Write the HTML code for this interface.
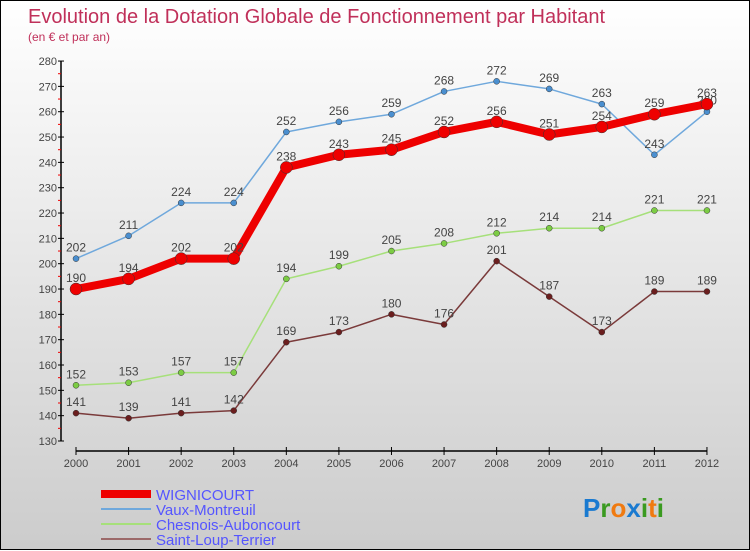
<!DOCTYPE html>
<html><head><meta charset="utf-8"><style>
body{margin:0;}
#c{width:748px;height:548px;border:1px solid #000;background:linear-gradient(#fff,#ccc);position:relative;font-family:"Liberation Sans",sans-serif;}
svg{position:absolute;left:0;top:0}
</style></head><body>
<div id="c">
<svg id="s" width="750" height="550"></svg>
</div>
<script>
const years=[2000,2001,2002,2003,2004,2005,2006,2007,2008,2009,2010,2011,2012];
const wig=[190,194,202,202,238,243,245,252,256,251,254,259,263];
const vaux=[202,211,224,224,252,256,259,268,272,269,263,243,260];
const ches=[152,153,157,157,194,199,205,208,212,214,214,221,221];
const saint=[141,139,141,142,169,173,180,176,201,187,173,189,189];
const yTicks=[130,140,150,160,170,180,190,200,210,220,230,240,250,260,270,280];
const names=["WIGNICOURT","Vaux-Montreuil","Chesnois-Auboncourt","Saint-Loup-Terrier"];
const NS="http://www.w3.org/2000/svg";
const s=document.getElementById('s');
const X=i=>75+i*52.58, Y=v=>440-(v-130)*2.533;
function el(t,a,p){const e=document.createElementNS(NS,t);for(const k in a)e.setAttribute(k,a[k]);(p||s).appendChild(e);return e;}
function tx(x,y,str,a){const e=el('text',Object.assign({x:x,y:y},a));e.textContent=str;return e;}
let t=tx(27,22,"Evolution de la Dotation Globale de Fonctionnement par Habitant",{fill:"#c0305a","font-size":20});

t=tx(27,40,"(en € et par an)",{fill:"#c0305a","font-size":12});

let ya=el('line',{x1:60,y1:60,x2:60,y2:440,stroke:"#000","stroke-width":1.5});

yTicks.forEach(v=>{el('line',{x1:57,x2:63,y1:Y(v),y2:Y(v),stroke:"#000"});
 if(v<280)el('line',{x1:57,x2:60,y1:Y(v+5),y2:Y(v+5),stroke:"#e00"});
 const l=tx(56,Y(v)+4,v,{"text-anchor":"end","font-size":11,fill:"#444"});
 });
let xa=el('line',{x1:75,y1:450,x2:706,y2:450,stroke:"#000","stroke-width":1.5});

years.forEach((y,i)=>{el('line',{x1:X(i),x2:X(i),y1:446,y2:454,stroke:"#000"});
 const l=tx(X(i),466,y,{"text-anchor":"middle","font-size":11,fill:"#444"});
 });
function series(d,col,w,r,dot,name){
 const g=el('g',{});
 el('polyline',{points:d.map((v,i)=>X(i)+","+Y(v)).join(" "),fill:"none",stroke:col,"stroke-width":w,"stroke-linejoin":"round"},g);
 d.forEach((v,i)=>{const c=el('circle',{cx:X(i),cy:Y(v),r:r,fill:dot,stroke:"#333","stroke-width":0.5},g);
  
  tx(X(i),Y(v)-7,v,{"text-anchor":"middle","font-size":12,fill:"#444"},g);});
}
series(vaux,"#6fa8dc",1.5,3,"#4a8fd0","series-vaux-montreuil");
series(ches,"#a6e07a",1.5,3,"#7ccc44","series-chesnois-auboncourt");
series(saint,"#7a3a3a",1.5,3,"#6b1e1e","series-saint-loup-terrier");
series(wig,"#ee0000",8,6,"#ee0000","series-wignicourt");
const lc=["#ee0000","#6fa8dc","#a6e07a","#9c6a6a"],lw=[8,2,2,2];
names.forEach((n,i)=>{const y=493+i*15;
 const g=el('g',{});
 el('line',{x1:100,x2:150,y1:y,y2:y,stroke:lc[i],"stroke-width":lw[i]},g);
 tx(155,y+6,n,{"font-size":15,fill:"#5555ff"},g);});
const p=el('text',{x:582,y:516,"font-size":26,"font-weight":"bold"});

[["P","#1a7ad0"],["r","#3a9a20"],["o","#f07a10"],["x","#1a7ad0"],["i","#3a9a20"],["t","#f07a10"],["i","#3a9a20"]].forEach(a=>{const q=el('tspan',{fill:a[1]},p);q.textContent=a[0];});
</script>
</body></html>
